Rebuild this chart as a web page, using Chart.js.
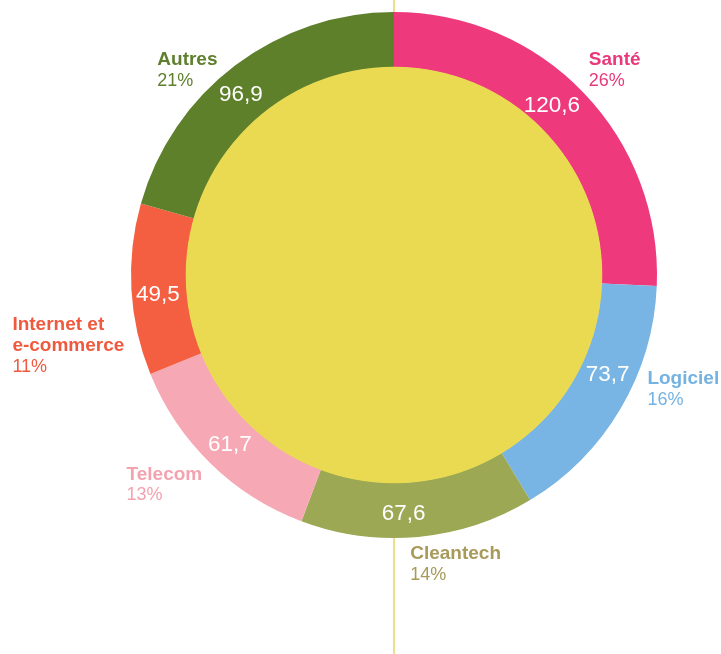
<!DOCTYPE html>
<html>
<head>
<meta charset="utf-8">
<script src="https://cdn.jsdelivr.net/npm/chart.js@4/dist/chart.umd.min.js"></script>
<style>
  html, body { margin: 0; padding: 0; background: #fff; }
  #wrap { width: 721px; height: 654px; position: relative; }
</style>
</head>
<body>
<div id="wrap"><canvas id="pie" width="721" height="654"></canvas></div>
<script>
// data
const categories = [['Santé'], ['Logiciel'], ['Cleantech'], ['Telecom'], ['Internet et', 'e-commerce'], ['Autres']]
const values = [120.6, 73.7, 67.6, 61.7, 49.5, 96.9]

// styles
const sliceColors = ['#ee3a7c', '#78b5e4', '#9ca853', '#f6a8b4', '#f35f40', '#5f802b']
const labelColors = ['#e8397a', '#74b2e2', '#a89a58', '#f4a2af', '#ef5a3e', '#5e7f2d']
const centerColor = '#e9da51'
const lineColor = '#ede08c'
// label block offset from the outer mid point of each slice
const labelOffset = [[5, -33], [27, -30], [-8, 17], [-84, 11], [-119, 35], [-78, -5]]
// small nudge of the value text from the slice centre
const valueNudge = [[-12, -6], [11, -20], [-12, 4], [0, 1], [-1, 7], [-11, 8]]

const total = values.reduce((a, b) => a + b, 0)
const fmt = v => v.toFixed(1).replace('.', ',')

/*====================== plugin: line, centre, texts ======================*/
const decor = {
    id: 'decor',
    beforeDatasetsDraw(chart) {
        const ctx = chart.ctx
        const arc = chart.getDatasetMeta(0).data[0]
        ctx.save()
        ctx.strokeStyle = lineColor
        ctx.lineWidth = 2
        ctx.beginPath()
        ctx.moveTo(arc.x, 0)
        ctx.lineTo(arc.x, chart.height)
        ctx.stroke()
        ctx.restore()
    },
    afterDatasetsDraw(chart) {
        const ctx = chart.ctx
        const arcs = chart.getDatasetMeta(0).data
        const a0 = arcs[0]
        ctx.save()
        // yellow centre
        ctx.fillStyle = centerColor
        ctx.beginPath()
        ctx.arc(a0.x, a0.y, a0.innerRadius + 0.5, 0, Math.PI * 2)
        ctx.fill()

        arcs.forEach((arc, i) => {
            // value inside the ring
            const p = arc.tooltipPosition()
            ctx.fillStyle = '#ffffff'
            ctx.font = '22.5px "Liberation Sans", Arial, sans-serif'
            ctx.textAlign = 'center'
            ctx.textBaseline = 'middle'
            ctx.fillText(fmt(values[i]), p.x + valueNudge[i][0], p.y + valueNudge[i][1])

            // name + percent outside
            const mid = (arc.startAngle + arc.endAngle) / 2
            const ox = arc.x + Math.cos(mid) * arc.outerRadius
            const oy = arc.y + Math.sin(mid) * arc.outerRadius
            const lx = ox + labelOffset[i][0]
            let ly = oy + labelOffset[i][1]
            ctx.textAlign = 'left'
            ctx.fillStyle = labelColors[i]
            ctx.font = 'bold 19px "Liberation Sans", Arial, sans-serif'
            categories[i].forEach(line => {
                ctx.fillText(line, lx, ly)
                ly += 21
            })
            ctx.font = '18px "Liberation Sans", Arial, sans-serif'
            ctx.fillText(Math.round(values[i] / total * 100) + '%', lx, ly)
        })
        ctx.restore()
    }
}

/*====================== chart ======================*/
new Chart(document.getElementById('pie'), {
    type: 'doughnut',
    data: {
        labels: categories.map(c => c.join(' ')),
        datasets: [{
            data: values,
            backgroundColor: sliceColors,
            borderWidth: 0,
            hoverOffset: 0
        }]
    },
    options: {
        responsive: false,
        animation: false,
        cutout: '79%',
        layout: { padding: { left: 131, right: 64, top: 12, bottom: 116 } },
        plugins: {
            legend: { display: false },
            tooltip: { enabled: false }
        }
    },
    plugins: [decor]
})
</script>
</body>
</html>
